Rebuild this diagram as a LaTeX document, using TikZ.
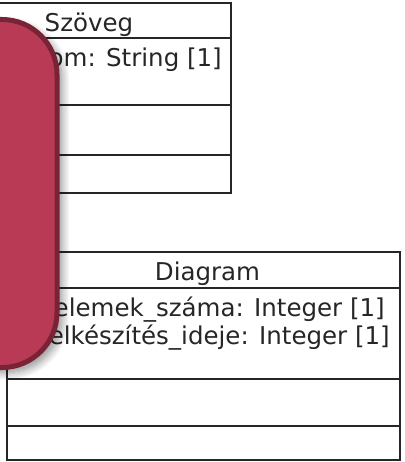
\documentclass[tikz,border=0pt]{standalone}
\usepackage{fontspec}
\setmainfont{DejaVu Sans}
\usetikzlibrary{shadows.blur}
\definecolor{notefill}{RGB}{185,58,85}
\definecolor{noteborder}{RGB}{122,35,55}
\begin{document}
\begin{tikzpicture}[x=1pt,y=-1pt,
  umlbox/.style={draw=black!85, line width=1.4pt, rectangle, inner sep=0pt},
  umlline/.style={draw=black!85, line width=1.4pt},
  lbl/.style={inner sep=0pt, font=\fontsize{24.5}{29}\selectfont, text=black!85},
  note/.style={rectangle, fill=notefill, draw=noteborder, line width=5pt, rounded corners=55pt,
    blur shadow={shadow xshift=5pt, shadow yshift=-5pt, shadow blur radius=8pt, shadow blur steps=12, shadow opacity=45}}]
\useasboundingbox (0,0) rectangle (404,462);
\clip (0,0) rectangle (404,462);
% Szoveg class
\node[umlbox, minimum width=282pt, minimum height=190pt] (szoveg) at (90,98) {};
\draw[umlline] (-51,38) -- (231,38);
\draw[umlline] (-51,105) -- (231,105);
\draw[umlline] (-51,155) -- (231,155);
\node[lbl, anchor=base] (szovegname) at (89,32) {Szöveg};
\node[lbl, anchor=base east] (szovegattr) at (222,67) {om: String [1]};
% Diagram class
\node[umlbox, minimum width=393pt, minimum height=208pt] (diagram) at (203.5,356) {};
\draw[umlline] (7,288) -- (400,288);
\draw[umlline] (7,379) -- (400,379);
\draw[umlline] (7,426) -- (400,426);
\node[lbl, anchor=base] (diagramname) at (207.5,280) {Diagram};
\node[lbl, anchor=base east] (attr1) at (385,316) {elemek\_száma: Integer [1]};
\node[lbl, anchor=base east] (attr2) at (390,344) {elkészítés\_ideje: Integer [1]};
% note
\node[note, minimum width=137pt, minimum height=348pt] (notebox) at (-11.5,193.5) {};
\end{tikzpicture}
\end{document}
